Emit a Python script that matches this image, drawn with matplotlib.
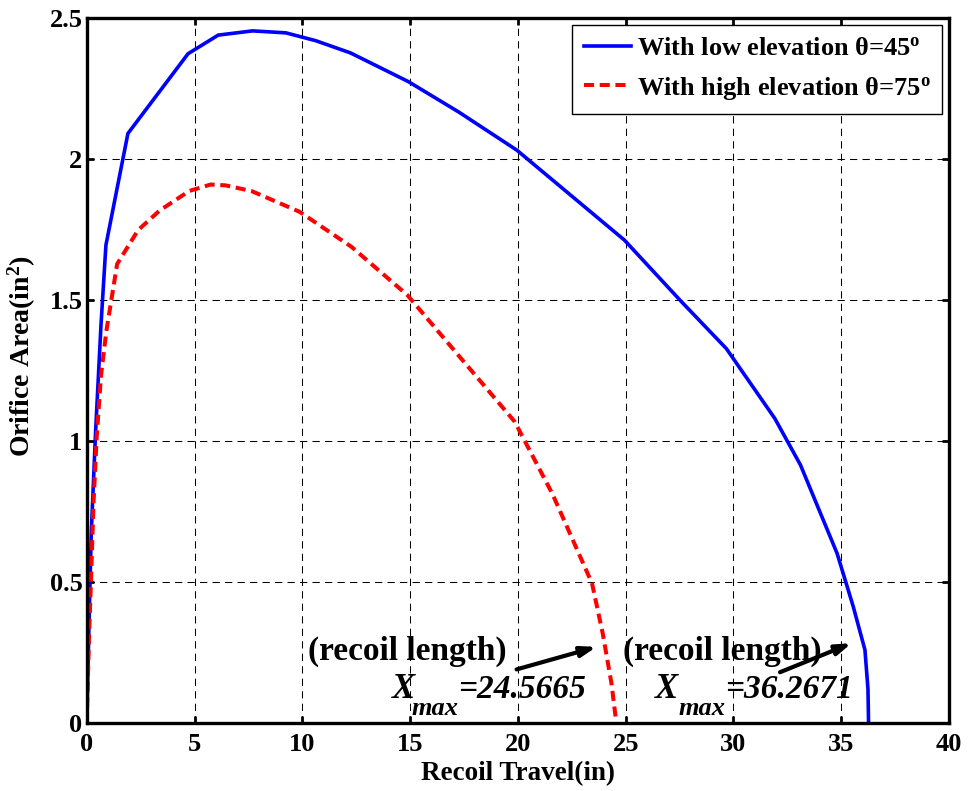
import matplotlib
matplotlib.use("Agg")
import matplotlib.pyplot as plt

plt.rcParams['font.family'] = ['Liberation Serif', 'DejaVu Serif']
plt.rcParams['font.weight'] = 'bold'
plt.rcParams['mathtext.fontset'] = 'custom'
plt.rcParams['mathtext.rm'] = 'Liberation Serif:bold'
plt.rcParams['mathtext.bf'] = 'Liberation Serif:bold'
plt.rcParams['mathtext.it'] = 'Liberation Serif:bold:italic'

# Orifice area profile vs recoil travel, low elevation (theta = 45 deg)
travel_low = [0.0, 0.11, 0.21, 0.41, 0.66, 0.89, 1.91, 4.70, 6.10, 7.69, 9.24,
              10.63, 12.23, 14.92, 17.26, 19.95, 24.94, 27.53, 29.67, 31.92,
              33.11, 34.81, 35.56, 36.10, 36.24, 36.2671]
area_low = [0.0, 0.366, 0.674, 1.032, 1.41, 1.695, 2.091, 2.374, 2.440, 2.455,
            2.448, 2.420, 2.377, 2.275, 2.167, 2.032, 1.713, 1.499, 1.328, 1.080,
            0.915, 0.601, 0.412, 0.259, 0.12, 0.0]

# High elevation (theta = 75 deg)
travel_high = [0.0, 0.11, 0.21, 0.31, 0.46, 0.66, 0.91, 1.41, 2.38, 3.37, 4.75,
               5.75, 6.44, 7.64, 9.88, 12.28, 14.87, 19.85, 21.60, 23.44, 23.94,
               24.34, 24.5665]
area_high = [0.0, 0.316, 0.535, 0.773, 1.012, 1.231, 1.39, 1.628, 1.748, 1.817,
             1.887, 1.910, 1.907, 1.887, 1.813, 1.689, 1.518, 1.069, 0.813, 0.495,
             0.316, 0.141, 0.0]

xmax_low = 36.2671
xmax_high = 24.5665

x_ticks = [0, 5, 10, 15, 20, 25, 30, 35, 40]
y_ticks = [0, 0.5, 1, 1.5, 2, 2.5]
y_tick_labels = ['0', '0.5', '1', '1.5', '2', '2.5']

fig = plt.figure(figsize=(9.68, 7.91), dpi=100)
ax = fig.add_axes([0.0896, 0.086, 0.8908, 0.891])

ax.plot(travel_low, area_low, color='#0000ff', lw=2.6,
        label=r'With low elevation θ=45$^{\mathrm{o}}$')
ax.plot(travel_high, area_high, color='#ff0000', lw=2.9, dashes=(2.5, 1.4),
        label=r'With high elevation θ=75$^{\mathrm{o}}$')

ax.set_xlim(0, 40)
ax.set_ylim(0, 2.5)
ax.set_xticks(x_ticks)
ax.set_yticks(y_ticks)
ax.set_yticklabels(y_tick_labels)

ax.grid(True, color='black', lw=0.75, linestyle=(0, (7, 5)))
ax.set_axisbelow(True)

for s in ax.spines.values():
    s.set_linewidth(2.4)
ax.tick_params(direction='in', length=5, width=2.0, top=True, right=True,
               labelsize=19)
ax.tick_params(axis='x', pad=7)
ax.tick_params(axis='y', pad=3)
for lbl in ax.get_xticklabels() + ax.get_yticklabels():
    lbl.set_fontweight('bold')

ax.set_xlabel('Recoil Travel(in)', fontsize=19.5, fontweight='bold', labelpad=4)
ax.set_ylabel(r'Orifice Area(in$^{2}$)', fontsize=20, fontweight='bold')
ax.yaxis.set_label_coords(-0.056, 0.52)

leg = ax.legend(loc='upper right', fontsize=19, frameon=True, fancybox=False,
                edgecolor='black', framealpha=1, handlelength=1.8,
                borderaxespad=0.25, labelspacing=0.55, borderpad=0.45,
                handletextpad=0.2)
leg.get_frame().set_linewidth(1.0)
for t in leg.get_texts():
    t.set_fontweight('bold')

# Annotations marking recoil length for each elevation
ann_kw = dict(fontsize=24, fontweight='bold')
ax.text(14.88, 0.255, '(recoil length)', ha='center', va='center', **ann_kw)
ax.text(29.49, 0.255, '(recoil length)', ha='center', va='center', **ann_kw)

it_kw = dict(fontweight='bold', style='italic')
ax.text(14.15, 0.117, 'X', ha='left', va='center', fontsize=25, **it_kw)
ax.text(15.07, 0.05, 'max', ha='left', va='center', fontsize=19, **it_kw)
ax.text(17.24, 0.117, '=%.4f' % xmax_high, ha='left', va='center', fontsize=24, **it_kw)

ax.text(26.36, 0.117, 'X', ha='left', va='center', fontsize=25, **it_kw)
ax.text(27.43, 0.05, 'max', ha='left', va='center', fontsize=19, **it_kw)
ax.text(29.6, 0.117, '=%.4f' % xmax_low, ha='left', va='center', fontsize=24, **it_kw)

arrow_kw = dict(arrowstyle='-|>,head_length=0.9,head_width=0.3', color='black',
                lw=3.0, shrinkA=0, shrinkB=0)
ax.annotate('', xy=(23.65, 0.27), xytext=(19.94, 0.19), arrowprops=arrow_kw)
ax.annotate('', xy=(35.48, 0.283), xytext=(32.16, 0.18), arrowprops=arrow_kw)

fig.savefig('out.png', dpi=100)
